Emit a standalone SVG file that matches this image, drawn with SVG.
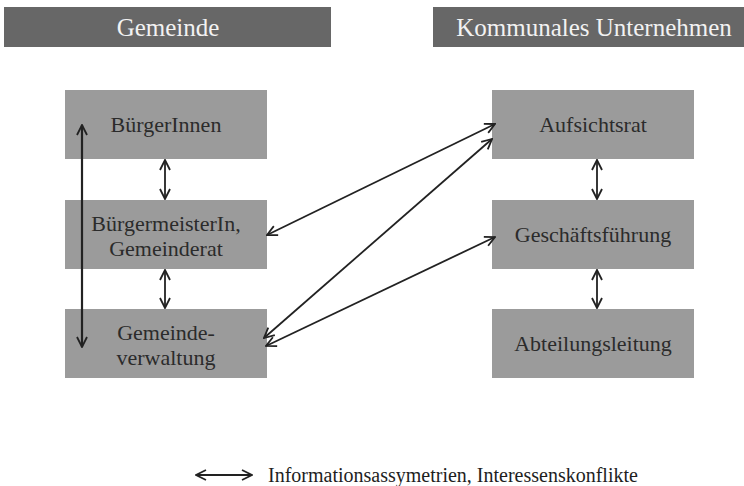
<svg xmlns="http://www.w3.org/2000/svg" width="744" height="486" viewBox="0 0 744 486">
<style>
.hdr{fill:#676767}
.hdrt{font-family:"Liberation Serif",serif;font-size:25px;fill:#f2f2f2;text-anchor:middle}
.box{fill:#9b9b9b}
.bt{font-family:"Liberation Serif",serif;font-size:22px;fill:#2b2b2b;text-anchor:middle}
.ln{stroke:#222;stroke-width:1.8;fill:none;marker-start:url(#ah);marker-end:url(#ah)}
.leg{font-family:"Liberation Serif",serif;font-size:20px;fill:#1e1e1e}
</style>
<defs>
<marker id="ah" viewBox="0 0 12 12" refX="11" refY="6" markerWidth="12" markerHeight="12" markerUnits="userSpaceOnUse" orient="auto-start-reverse">
<path d="M1,1 L11,6 L1,11" fill="none" stroke="#222" stroke-width="1.8"/>
</marker>
</defs>
<rect width="744" height="486" fill="#fff"/>
<g id="hdr-gemeinde"><rect class="hdr" x="4" y="7" width="327" height="40"/><text class="hdrt" x="168" y="36">Gemeinde</text></g>
<g id="hdr-unternehmen"><rect class="hdr" x="433" y="7" width="311" height="40"/><text class="hdrt" x="594" y="36">Kommunales Unternehmen</text></g>
<g id="buerger"><rect class="box" x="65" y="90" width="202" height="69"/><text class="bt" x="166" y="132">BürgerInnen</text></g>
<g id="bgm"><rect class="box" x="65" y="200" width="202" height="69"/><text class="bt" x="166" y="231">BürgermeisterIn,</text><text class="bt" x="166" y="256">Gemeinderat</text></g>
<g id="verw"><rect class="box" x="65" y="309" width="202" height="69"/><text class="bt" x="166" y="340">Gemeinde-</text><text class="bt" x="166" y="365">verwaltung</text></g>
<g id="aufsicht"><rect class="box" x="492" y="90" width="202" height="69"/><text class="bt" x="593" y="132">Aufsichtsrat</text></g>
<g id="gf"><rect class="box" x="492" y="200" width="202" height="69"/><text class="bt" x="593" y="242">Geschäftsführung</text></g>
<g id="abt"><rect class="box" x="492" y="309" width="202" height="69"/><text class="bt" x="593" y="351">Abteilungsleitung</text></g>
<g id="connectors">
<line class="ln" x1="82" y1="125" x2="82" y2="347" style="stroke-width:2.2"/>
<line class="ln" x1="165" y1="160" x2="165" y2="199"/>
<line class="ln" x1="165" y1="270" x2="165" y2="308"/>
<line class="ln" x1="597" y1="160" x2="597" y2="199"/>
<line class="ln" x1="597" y1="270" x2="597" y2="308"/>
<line class="ln" x1="267" y1="235" x2="495" y2="124"/>
<line class="ln" x1="264" y1="338" x2="492" y2="139"/>
<line class="ln" x1="266" y1="346" x2="495" y2="237"/>
<line class="ln" x1="196" y1="475" x2="252" y2="475" style="stroke-width:2.2"/>
</g>
<g id="legend"><text class="leg" x="268" y="482">Informationsassymetrien,  Interessenskonflikte</text></g>
</svg>
